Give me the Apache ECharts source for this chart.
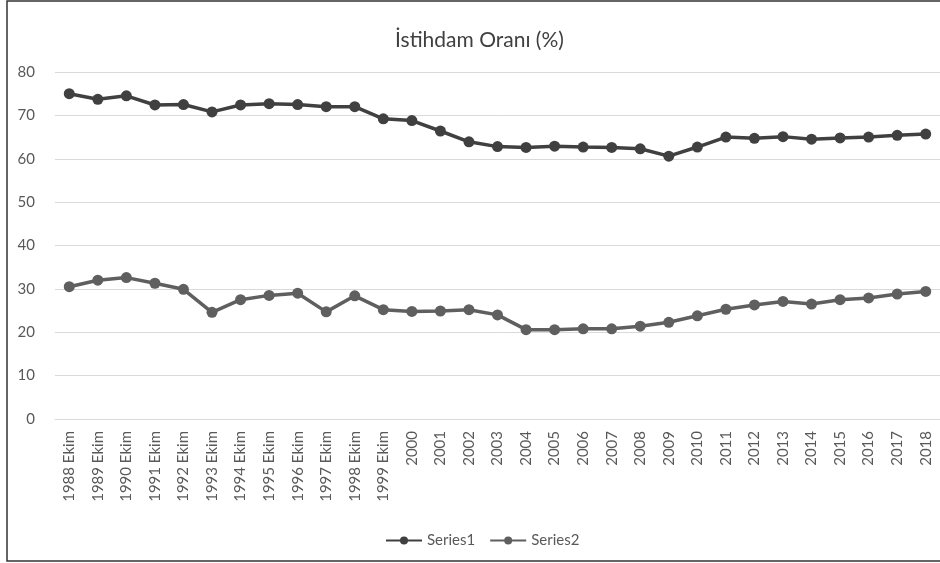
<!DOCTYPE html>
<html>
<head>
<meta charset="utf-8">
<script src="https://cdn.jsdelivr.net/npm/echarts@6/dist/echarts.min.js"></script>
<style>
html,body{margin:0;padding:0;background:#fff;}
#c{width:940px;height:563px;}
</style>
</head>
<body>
<div id="c"></div>
<script>
const titleText = 'İstihdam Oranı (%)';
const categories = ['1988 Ekim','1989 Ekim','1990 Ekim','1991 Ekim','1992 Ekim','1993 Ekim','1994 Ekim','1995 Ekim','1996 Ekim','1997 Ekim','1998 Ekim','1999 Ekim','2000','2001','2002','2003','2004','2005','2006','2007','2008','2009','2010','2011','2012','2013','2014','2015','2016','2017','2018'];
const series1 = [75.0,73.7,74.5,72.4,72.5,70.8,72.4,72.7,72.5,72.0,72.0,69.2,68.8,66.4,63.9,62.8,62.6,62.9,62.7,62.6,62.3,60.6,62.7,65.0,64.7,65.1,64.5,64.8,65.0,65.4,65.7];
const series2 = [30.5,32.0,32.6,31.3,29.9,24.6,27.5,28.5,29.0,24.7,28.4,25.2,24.8,24.9,25.2,24.0,20.6,20.6,20.8,20.8,21.4,22.3,23.8,25.3,26.3,27.1,26.5,27.5,27.9,28.8,29.4];
const yTicks = {min:0, max:80, interval:10};

const font = 'Lato, "Open Sans", sans-serif';
const chart = echarts.init(document.getElementById('c'), null, {renderer:'canvas'});
chart.setOption({
  animation:false,
  backgroundColor:'#fff',
  title:{text:titleText, left:390, top:25, textStyle:{fontFamily:font, fontSize:21, fontWeight:'normal', color:'#404040'}},
  graphic:[{type:'rect', shape:{x:7, y:1, width:950, height:560}, style:{fill:'none', stroke:'#333', lineWidth:1.5}, silent:true}],
  legend:{bottom:10, left:380, itemWidth:36, itemHeight:10, itemGap:14,
    textStyle:{fontFamily:font, fontSize:15, color:'#595959'},
    data:['Series1','Series2']},
  grid:{left:55, right:-3, top:72, bottom:144, containLabel:false},
  xAxis:{type:'category', data:categories, boundaryGap:true,
    axisLine:{show:true, lineStyle:{color:'#d9d9d9', width:1}},
    axisTick:{show:false},
    axisLabel:{rotate:90, interval:0, margin:12, fontFamily:font, fontSize:15, color:'#595959'}},
  yAxis:{type:'value', min:yTicks.min, max:yTicks.max, interval:yTicks.interval,
    axisLine:{show:false}, axisTick:{show:false},
    splitLine:{lineStyle:{color:'#d9d9d9', width:1}},
    axisLabel:{margin:20, fontFamily:font, fontSize:15, color:'#595959'}},
  series:[
    {name:'Series1', type:'line', data:series1, symbol:'circle', symbolSize:11,
      lineStyle:{color:'#404040', width:3.5}, itemStyle:{color:'#404040'}},
    {name:'Series2', type:'line', data:series2, symbol:'circle', symbolSize:11,
      lineStyle:{color:'#5f5f5f', width:3.5}, itemStyle:{color:'#5f5f5f'}}
  ]
});
</script>
</body>
</html>
